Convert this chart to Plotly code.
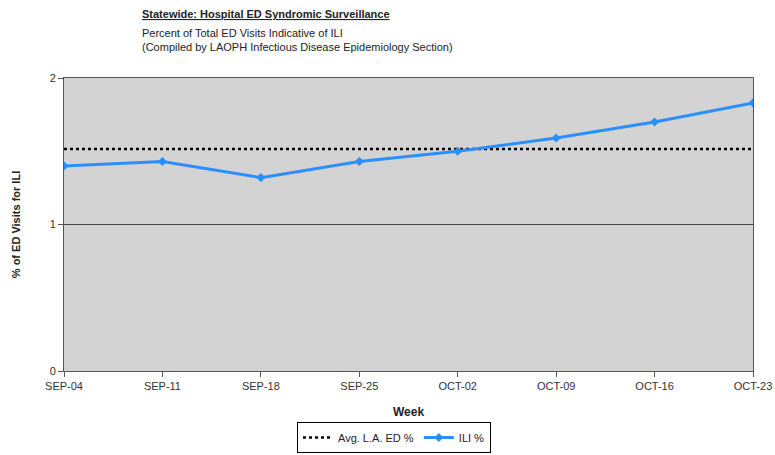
import plotly.graph_objects as go

weeks = ["SEP-04", "SEP-11", "SEP-18", "SEP-25", "OCT-02", "OCT-09", "OCT-16", "OCT-23"]
ili_pct = [1.40, 1.43, 1.32, 1.43, 1.50, 1.59, 1.70, 1.83]
avg_la_ed = [1.515] * len(weeks)

FONT = "Liberation Sans, Arial, sans-serif"

fig = go.Figure()
fig.add_trace(go.Scatter(
    x=weeks, y=avg_la_ed, mode="lines", name="Avg. L.A. ED %",
    line=dict(color="black", width=2.5, dash="dot"),
))
fig.add_trace(go.Scatter(
    x=weeks, y=ili_pct, mode="lines+markers", name="ILI %",
    line=dict(color="#2b8ffb", width=3),
    marker=dict(symbol="diamond", size=7, color="#2b8ffb"),
))

fig.update_layout(
    width=775, height=455,
    margin=dict(l=64, r=22, t=78, b=84, autoexpand=False),
    paper_bgcolor="white",
    plot_bgcolor="#d3d3d3",
    font=dict(family=FONT, size=11, color="#222"),
    showlegend=True,
    legend=dict(
        orientation="h", xref="container", yref="container",
        x=394 / 775, xanchor="center", y=1 - 422 / 455, yanchor="top",
        bordercolor="black", borderwidth=1, bgcolor="white",
        font=dict(size=11, color="#222"), traceorder="normal",
        itemwidth=30, tracegroupgap=0,
    ),
    xaxis=dict(
        type="category", range=[0, 7], automargin=False,
        showgrid=False, zeroline=False,
        showline=True, linecolor="#555", linewidth=1, mirror=True,
        ticks="outside", ticklen=5, tickcolor="#555",
        tickfont=dict(size=11, color="#333"),
        title=dict(text="<b>Week</b>", font=dict(size=12, color="#222"), standoff=16),
    ),
    yaxis=dict(
        range=[0, 2], tickvals=[0, 1, 2], automargin=False,
        showgrid=True, gridcolor="#444", gridwidth=1, zeroline=False,
        showline=True, linecolor="#555", linewidth=1, mirror=True,
        ticks="outside", ticklen=5, tickcolor="#555",
        tickfont=dict(size=11, color="#333"),
        title=dict(text="<b>% of ED Visits for ILI</b>", font=dict(size=11, color="#222"), standoff=26),
    ),
)

fig.add_annotation(
    xref="paper", yref="paper", x=(140 - 64) / 689, y=1 + (78 - 14) / 293,
    xanchor="left", yanchor="middle", showarrow=False,
    text="<b><u>Statewide: Hospital ED Syndromic Surveillance</u></b>",
    font=dict(size=11, color="#222", family=FONT),
)
fig.add_annotation(
    xref="paper", yref="paper", x=(140 - 64) / 689, y=1 + (78 - 40) / 293,
    xanchor="left", yanchor="middle", showarrow=False, align="left",
    text="Percent of Total ED Visits Indicative of ILI<br>(Compiled by LAOPH Infectious Disease Epidemiology Section)",
    font=dict(size=11, color="#222", family=FONT),
)

fig.write_html("out.html")
